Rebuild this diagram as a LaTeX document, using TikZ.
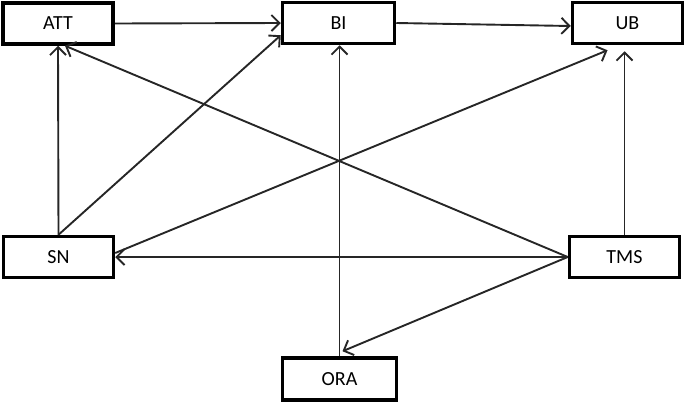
\documentclass[tikz,border=0pt]{standalone}
\usepackage{fontspec}
\setmainfont{Carlito}
\usetikzlibrary{arrows.meta}
\begin{document}
\begin{tikzpicture}[x=1pt,y=-1pt,
  box/.style={draw=black,line width=3.5pt,fill=white,rectangle,inner sep=0pt,
    minimum width=110pt,minimum height=41pt,font=\fontsize{20}{22}\selectfont},
  conn/.style={line width=1.9pt,draw=black!85,-{Straight Barb[length=8pt,width=16pt,line width=1.9pt]}}]
\useasboundingbox (0,0) rectangle (685,402);
\node[box] (ATT) at (58,23.5) {ATT};
\node[box,minimum width=112pt] (BI) at (338.5,23) {BI};
\node[box] (UB) at (627.5,23) {UB};
\node[box] (SN) at (58.5,257) {SN};
\node[box] (TMS) at (624.5,257) {TMS};
\node[box,minimum width=114pt,minimum height=42pt] (ORA) at (339.5,379) {ORA};
\draw[conn] (ATT.east) -- (BI.west);
\draw[conn] (BI.east) -- ([yshift=-3pt]UB.west);
\draw[conn] (SN.north) -- (ATT.south);
\draw[conn] (SN.north) -- ([yshift=10pt]BI.south west);
\draw[conn] (TMS.west) -- ([xshift=7pt]ATT.south);
\draw[conn] ([yshift=4pt]SN.east) -- ([xshift=-20pt,yshift=-5pt]UB.south);
\draw[conn] (TMS.north) -- ([yshift=-6pt]TMS.north |- UB.south);
\draw[conn] (TMS.west) -- (SN.east);
\draw[conn] (TMS.west) -- ([xshift=3pt,yshift=5pt]ORA.north);
\draw[conn] (ORA.north) -- (ORA.north |- BI.south);
\end{tikzpicture}
\end{document}
